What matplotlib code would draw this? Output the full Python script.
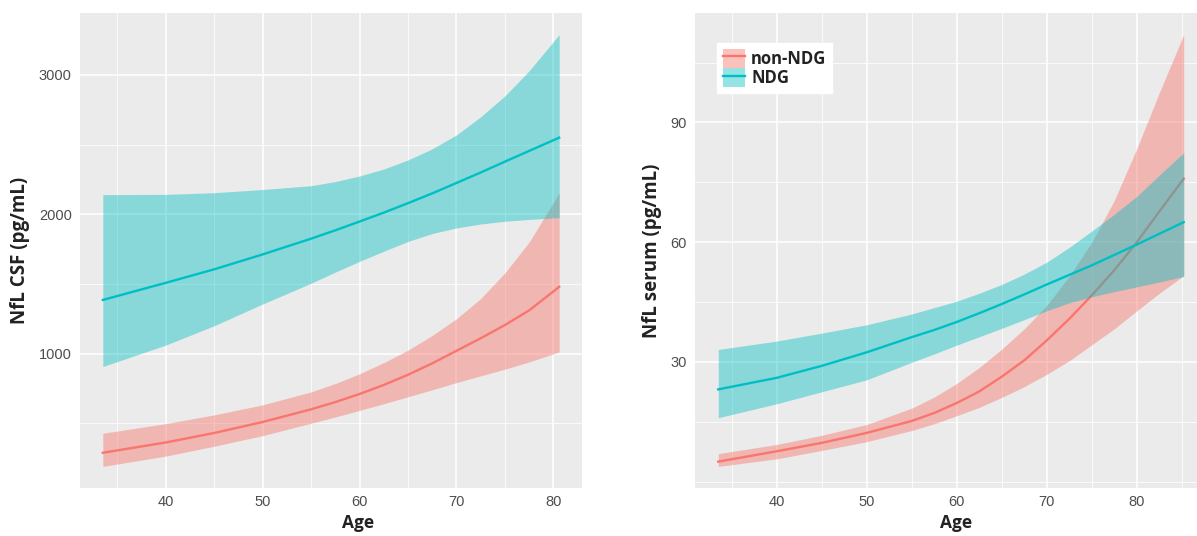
import matplotlib
matplotlib.use("Agg")
import matplotlib.pyplot as plt
from matplotlib.patches import Patch
from matplotlib.lines import Line2D
from matplotlib.legend_handler import HandlerTuple
from matplotlib.ticker import FixedLocator

# ---------------- data ----------------
groups = ["non-NDG", "NDG"]

csf_age = [33.5, 40, 45, 50, 55, 57.5, 60, 62.5, 65, 67.5, 70, 72.5, 75, 77.5, 80.6]
csf_nonndg_fit = [288, 362, 430, 509, 600, 652, 710, 775, 848, 930, 1020, 1110, 1205, 1310, 1479]
csf_nonndg_lo = [190, 264, 335, 411, 500, 545, 592, 640, 690, 740, 792, 840, 888, 940, 1012]
csf_nonndg_hi = [428, 497, 560, 632, 725, 785, 855, 935, 1025, 1130, 1250, 1395, 1580, 1800, 2153]
csf_ndg_fit = [1385, 1508, 1605, 1712, 1825, 1885, 1948, 2012, 2080, 2150, 2225, 2300, 2378, 2455, 2550]
csf_ndg_lo = [907, 1061, 1200, 1356, 1505, 1585, 1662, 1735, 1805, 1862, 1902, 1930, 1950, 1963, 1976]
csf_ndg_hi = [2141, 2143, 2155, 2178, 2205, 2235, 2275, 2325, 2390, 2470, 2570, 2700, 2850, 3030, 3290]

serum_age = [33.5, 40, 45, 50, 55, 57.5, 60, 62.5, 65, 67.5, 70, 72.5, 75, 77.5, 80, 82.5, 85.2]
serum_nonndg_fit = [5.0, 7.6, 9.7, 12.2, 15.2, 17.2, 19.7, 22.6, 26.3, 30.4, 35.4, 40.8, 46.7,
                    53.0, 60.0, 67.7, 75.9]
serum_nonndg_lo = [3.8, 5.7, 7.8, 10.0, 12.8, 14.5, 16.5, 18.6, 21.1, 23.8, 26.9, 30.3, 34.3,
                   38.3, 42.8, 47.2, 51.6]
serum_nonndg_hi = [7.0, 9.3, 11.6, 14.3, 18.4, 21.2, 24.6, 28.6, 33.2, 38.3, 44.2, 51.5, 60.0,
                   70.5, 83.5, 97.5, 112.0]
serum_ndg_fit = [23.1, 26.0, 29.0, 32.4, 36.2, 38.0, 40.0, 42.2, 44.5, 46.9, 49.4, 51.8, 54.2,
                 56.8, 59.4, 62.1, 65.0]
serum_ndg_lo = [16.0, 19.5, 22.5, 25.5, 29.9, 32.0, 34.2, 36.3, 38.4, 40.6, 42.8, 44.8, 46.3,
                47.6, 48.8, 50.0, 51.4]
serum_ndg_hi = [33.1, 35.2, 37.2, 39.3, 42.0, 43.6, 45.2, 47.2, 49.4, 52.0, 55.0, 58.7, 62.8,
                67.0, 71.5, 76.8, 82.4]

x_ticks = [40, 50, 60, 70, 80]
x_minor = [35, 45, 55, 65, 75, 85]
csf_yticks = [1000, 2000, 3000]
csf_yminor = [500, 1500, 2500]
serum_yticks = [30, 60, 90]
serum_yminor = [0, 15, 45, 75, 105]

# ---------------- style ----------------
RED = "#F8766D"
TEAL = "#00BFC4"
BG = "#EBEBEB"
TICK_FONT = "Liberation Sans"
TITLE_FONT = "Open Sans"

W, H = 1197, 536
fig = plt.figure(figsize=(W / 100, H / 100), dpi=100)
fig.patch.set_facecolor("white")


def expand(vals):
    lo, hi = min(vals), max(vals)
    r = hi - lo
    return lo - 0.05 * r, hi + 0.05 * r


def panel(ax, age, series, yticks, yminor, ylabel, xlab_x):
    ax.set_facecolor(BG)
    for s in ax.spines.values():
        s.set_visible(False)
    (nf, nlo, nhi), (tf, tlo, thi) = series
    ax.fill_between(age, nlo, nhi, color=RED, alpha=0.45, lw=0, zorder=2)
    ax.plot(age, nf, color=RED, lw=1.7, zorder=3, solid_joinstyle="round")
    ax.fill_between(age, tlo, thi, color=TEAL, alpha=0.42, lw=0, zorder=4)
    ax.plot(age, tf, color=TEAL, lw=1.7, zorder=5, solid_joinstyle="round")
    ax.set_xlim(*expand(age))
    ally = list(nlo) + list(nhi) + list(tlo) + list(thi)
    ax.set_ylim(*expand(ally))
    ax.set_xticks(x_ticks)
    ax.set_yticks(yticks)
    ax.xaxis.set_minor_locator(FixedLocator(x_minor))
    ax.yaxis.set_minor_locator(FixedLocator(yminor))
    ax.grid(which="major", color="white", lw=1.1, zorder=0)
    ax.grid(which="minor", color="white", lw=0.55, zorder=0)
    ax.set_axisbelow(True)
    ax.tick_params(which="both", length=0)
    ax.tick_params(axis="y", pad=6)
    ax.tick_params(axis="x", pad=5)
    for lab in ax.get_xticklabels() + ax.get_yticklabels():
        lab.set_fontfamily(TICK_FONT)
        lab.set_fontsize(10.5)
        lab.set_color("#4D4D4D")
    ax.set_xlabel("Age", fontfamily=TITLE_FONT, fontweight="bold", fontsize=12.5,
                  color="#222222", labelpad=3)
    ax.xaxis.set_label_coords(xlab_x, -0.055)
    ax.set_ylabel(ylabel, fontfamily=TITLE_FONT, fontweight="bold", fontsize=13.5,
                  color="#222222", labelpad=6)


ax1 = fig.add_axes([80 / W, 1 - 488 / H, 502 / W, 475 / H])
panel(ax1, csf_age,
      [(csf_nonndg_fit, csf_nonndg_lo, csf_nonndg_hi),
       (csf_ndg_fit, csf_ndg_lo, csf_ndg_hi)],
      csf_yticks, csf_yminor, "NfL CSF (pg/mL)", (358 - 80) / 502)

ax2 = fig.add_axes([695 / W, 1 - 488 / H, 512 / W, 475 / H])
panel(ax2, serum_age,
      [(serum_nonndg_fit, serum_nonndg_lo, serum_nonndg_hi),
       (serum_ndg_fit, serum_ndg_lo, serum_ndg_hi)],
      serum_yticks, serum_yminor, "NfL serum (pg/mL)", (956 - 695) / 512)

handles = [
    (Patch(facecolor=RED, alpha=0.45, lw=0), Line2D([], [], color=RED, lw=1.7)),
    (Patch(facecolor=TEAL, alpha=0.42, lw=0), Line2D([], [], color=TEAL, lw=1.7)),
]
leg = fig.legend(handles, groups, loc="upper left",
                 bbox_to_anchor=(717 / W, 1 - 43 / H), bbox_transform=fig.transFigure,
                 handler_map={tuple: HandlerTuple(ndivide=1)},
                 frameon=True, fancybox=False, framealpha=1, edgecolor="white",
                 facecolor="white", borderpad=0.35, labelspacing=0.0,
                 handlelength=1.35, handleheight=1.4, handletextpad=0.35,
                 borderaxespad=0,
                 prop={"family": TITLE_FONT, "weight": "bold", "size": 12})
for t in leg.get_texts():
    t.set_color("#222222")

fig.savefig("out.png", dpi=100)
